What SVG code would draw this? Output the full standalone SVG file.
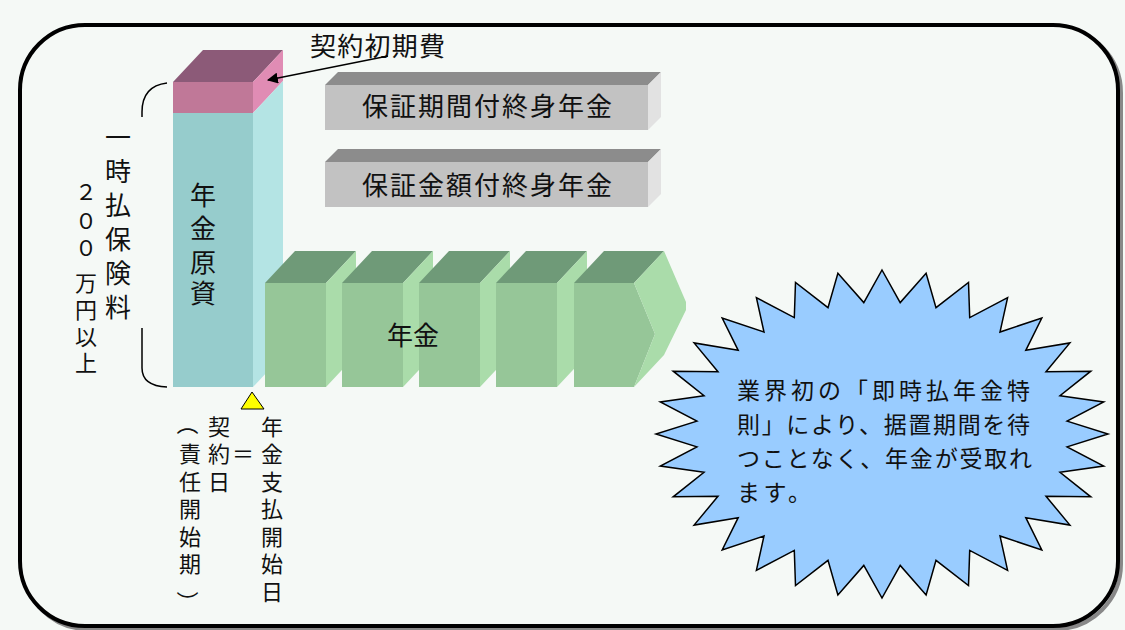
<svg xmlns="http://www.w3.org/2000/svg" width="1125" height="630" viewBox="0 0 1125 630">
<defs>
<style>
text{font-family:"Noto Sans CJK JP","Noto Sans CJK SC",sans-serif;fill:#111}
.f26{font-size:26px}
.f23{font-size:23px}
.f22{font-size:22px}
.c{text-anchor:middle}
.gtop{fill:#8c8c8c}.gfront{fill:#c2c2c2}.gside{fill:#e2e2e2}
.ntop{fill:#6f9a78}.nfront{fill:#96c698}.nside{fill:#aadcaa}
.ln{fill:none;stroke:#000;stroke-width:1.5}
</style>
<marker id="ah" viewBox="0 0 10 10" refX="9" refY="5" markerWidth="11" markerHeight="11" markerUnits="userSpaceOnUse" orient="auto">
<path d="M0,0 L10,5 L0,10 z" fill="#000"/>
</marker>
</defs>
<rect width="1125" height="630" fill="#f5f9f6"/>
<g id="frame">
<rect x="23" y="28" width="1098" height="601" rx="65" ry="65" fill="none" stroke="#888" stroke-width="4"/>
<rect x="20" y="25" width="1098" height="601" rx="65" ry="65" fill="#f5f9f6" stroke="#000" stroke-width="4"/>
</g>
<g id="pillar">
<polygon points="173,82 203,50 283,50 253,82" fill="#8c5a78"/>
<rect x="173" y="82" width="80" height="31" fill="#c07898"/>
<polygon points="253,82 283,50 283,81 253,113" fill="#e08cb4"/>
<rect x="173" y="113" width="80" height="274" fill="#96cccc"/>
<polygon points="253,113 283,81 283,355 253,387" fill="#b4e4e4"/>
<text class="f26 c"><tspan x="203" y="205">年</tspan><tspan x="203" y="238">金</tspan><tspan x="203" y="272">原</tspan><tspan x="203" y="303">資</tspan></text>
</g>
<g id="premium-label">
<path class="ln" d="M167,83 Q142,86 142,112 L142,117"/>
<path class="ln" d="M142,328 L142,368 Q142,386 167,387"/>
<text class="f26 c"><tspan x="118" y="147">一</tspan><tspan x="118" y="181">時</tspan><tspan x="118" y="215">払</tspan><tspan x="118" y="249">保</tspan><tspan x="118" y="283">険</tspan><tspan x="118" y="317">料</tspan></text>
<text class="f22 c"><tspan x="86" y="200">２</tspan><tspan x="86" y="229">０</tspan><tspan x="86" y="256">０</tspan><tspan x="86" y="291">万</tspan><tspan x="86" y="318">円</tspan><tspan x="86" y="345">以</tspan><tspan x="86" y="371">上</tspan></text>
</g>
<g id="fee-label">
<text class="f26" x="310" y="56" textLength="135" lengthAdjust="spacing">契約初期費</text>
</g>
<g id="box-period">
<polygon class="gtop" points="325,85 338,72 661,72 648,85"/>
<rect class="gfront" x="325" y="85" width="323" height="45"/>
<polygon class="gside" points="648,85 661,72 661,117 648,130"/>
<text class="f26" x="362" y="116" textLength="250" lengthAdjust="spacing">保証期間付終身年金</text>
</g>
<g id="box-amount">
<polygon class="gtop" points="325,162 338,149 661,149 648,162"/>
<rect class="gfront" x="325" y="162" width="323" height="45"/>
<polygon class="gside" points="648,162 661,149 661,194 648,207"/>
<text class="f26" x="362" y="195" textLength="250" lengthAdjust="spacing">保証金額付終身年金</text>
</g>
<g id="annuity">
<polygon class="ntop" points="265,283 295,251 356,251 326,283"/>
<rect class="nfront" x="265" y="283" width="61" height="104"/>
<polygon class="nside" points="326,283 356,251 356,355 326,387"/>
<polygon class="ntop" points="342,283 372,251 433,251 403,283"/>
<rect class="nfront" x="342" y="283" width="61" height="104"/>
<polygon class="nside" points="403,283 433,251 433,355 403,387"/>
<polygon class="ntop" points="419,283 449,251 510,251 480,283"/>
<rect class="nfront" x="419" y="283" width="61" height="104"/>
<polygon class="nside" points="480,283 510,251 510,355 480,387"/>
<polygon class="ntop" points="496,283 526,251 587,251 557,283"/>
<rect class="nfront" x="496" y="283" width="61" height="104"/>
<polygon class="nside" points="557,283 587,251 587,355 557,387"/>
<polygon class="ntop" points="574,283 604,251 664,251 634,283"/>
<polygon class="nfront" points="574,283 634,283 655,334 634,387 574,387"/>
<polygon class="nside" points="634,283 664,251 686,302 686,310 664,355 634,387 655,334"/>
<text class="f26 c" x="413" y="345">年金</text>
</g>
<g id="start-marker">
<polygon points="252,392 241,409 264,409" fill="#ffff00" stroke="#000" stroke-width="1"/>
<text class="f22 c" x="190" y="424" dominant-baseline="central" transform="rotate(90 190 424)">（</text>
<text class="f22 c"><tspan x="190" y="462">責</tspan><tspan x="190" y="490">任</tspan><tspan x="190" y="517">開</tspan><tspan x="190" y="545">始</tspan><tspan x="190" y="572">期</tspan></text>
<text class="f22 c" x="190" y="602" dominant-baseline="central" transform="rotate(90 190 602)">）</text>
<text class="f22 c"><tspan x="219" y="435">契</tspan><tspan x="219" y="462">約</tspan><tspan x="219" y="490">日</tspan></text>
<text class="f22 c" x="243" y="462">＝</text>
<text class="f22 c"><tspan x="272" y="435">年</tspan><tspan x="272" y="462">金</tspan><tspan x="272" y="490">支</tspan><tspan x="272" y="517">払</tspan><tspan x="272" y="545">開</tspan><tspan x="272" y="572">始</tspan><tspan x="272" y="600">日</tspan></text>
</g>
<g id="starburst">
<polygon fill="#99ccff" stroke="#000" stroke-width="1.5" stroke-linejoin="miter" points="882,270 900.2,302.6 926.1,273.2 936,307.7 968.5,282.5 969.7,317.6 1007.6,297.6 1000,332 1041.8,318 1025.8,350.3 1069.9,342.9 1046,371.8 1090.8,371.2 1060,395.7 1103.7,402 1067.1,421.1 1108,434 1067.1,446.9 1103.7,466 1060,472.3 1090.8,496.8 1046,496.2 1069.9,525.1 1025.8,517.7 1041.8,550 1000,536 1007.6,570.4 969.7,550.4 968.5,585.5 936,560.3 926.1,594.9 900.2,565.4 882,598 863.8,565.4 837.9,594.9 828,560.3 795.5,585.5 794.3,550.4 756.4,570.4 764,536 722.2,550 738.2,517.7 694.1,525.1 718,496.2 673.2,496.8 704,472.3 660.3,466 696.9,446.9 656,434 696.9,421.1 660.3,402 704,395.7 673.2,371.2 718,371.8 694.1,342.9 738.2,350.3 722.2,318 764,332 756.4,297.6 794.3,317.6 795.5,282.5 828,307.7 837.9,273.2 863.8,302.6"/>
<text class="f23" x="737" y="399" textLength="293" lengthAdjust="spacing">業界初の「即時払年金特</text>
<text class="f23" x="737" y="433" textLength="293" lengthAdjust="spacing">則」により、据置期間を待</text>
<text class="f23" x="737" y="467" textLength="295" lengthAdjust="spacing">つことなく、年金が受取れ</text>
<text class="f23" x="737" y="501" letter-spacing="3.6">ます。</text>
</g>
<g id="connectors">
<line class="ln" x1="388" y1="56" x2="268" y2="80" marker-end="url(#ah)"/>
</g>
</svg>
